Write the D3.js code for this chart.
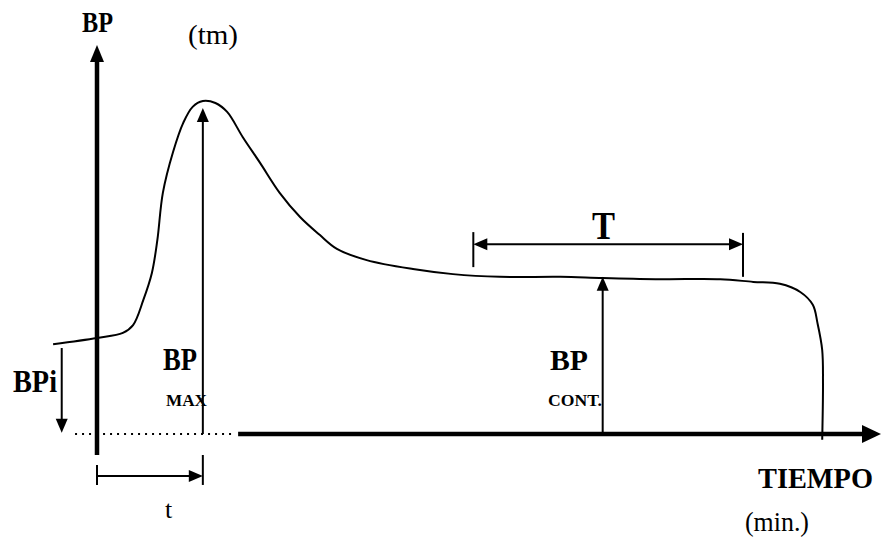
<!DOCTYPE html>
<html>
<head>
<meta charset="utf-8">
<script src="https://cdn.jsdelivr.net/npm/d3@7"></script>
<style>
  body { margin: 0; background: #fff; }
  text { font-family: "Liberation Serif", "Times New Roman", serif; fill: #000; }
</style>
</head>
<body>
<div id="chart"></div>
<script>
// curve of BP against time (time in %, BP in %)
var curveTime = [-5.6, 0, 3.3, 4.6, 5.9, 7.0, 7.7, 8.4, 9.7, 11.0, 12.2, 13.5, 15.1, 16.6, 18.6,
    20.8, 23.3, 25.9, 28.4, 30.6, 34.4, 40.3, 45.4, 51.4, 59.1, 64.5, 71.8, 79.5, 83.7, 87.1,
    89.7, 91.3, 91.9, 92.5, 92.6, 92.5];
var curveBP = [23.1, 24.7, 26.0, 28.0, 34.4, 41.4, 49.9, 62.0, 72.5, 80.0, 84.1, 85.6, 85.1, 82.8, 76.3,
    69.7, 62.0, 55.8, 51.2, 47.6, 44.7, 42.4, 41.1, 40.4, 40.4, 40.1, 39.8, 39.8, 39.1, 38.6,
    36.5, 33.2, 28.5, 21.6, 13.1, -1.5];

// markers
var tMax = 13.5, bpMax = 83.8;
var tCont = 64.5, bpCont = 40.4;
var bpInitial = 22.1, tInitial = -4.5;
var tWindow = [48, 82.4], bpWindow = 48.8;

var W = 882, H = 541;
var svg = d3.select("#chart").append("svg").attr("width", W).attr("height", H);

var x = d3.scaleLinear().domain([0, 100]).range([97, 881]);
var y = d3.scaleLinear().domain([0, 100]).range([434, 45]);

function arrowHead(px, py, dir, len, half)
{
    // dir: "up", "down", "left", "right"; (px,py) is the tip
    var pts;
    if (dir === "up") pts = [[px, py], [px - half, py + len], [px + half, py + len]];
    else if (dir === "down") pts = [[px, py], [px - half, py - len], [px + half, py - len]];
    else if (dir === "left") pts = [[px, py], [px + len, py - half], [px + len, py + half]];
    else pts = [[px, py], [px - len, py - half], [px - len, py + half]];
    svg.append("polygon").attr("points", pts.map(function (p) { return p.join(","); }).join(" "))
        .attr("fill", "#000");
}

function seg(x1, y1, x2, y2, w, dash)
{
    var l = svg.append("line")
        .attr("x1", x1).attr("y1", y1).attr("x2", x2).attr("y2", y2)
        .attr("stroke", "#000").attr("stroke-width", w);
    if (dash) l.attr("stroke-dasharray", dash);
    return l;
}

// axes
seg(x(0), y(-5.4), x(0), y(100) + 14, 4.5);
arrowHead(x(0), y(100), "up", 17, 7);
seg(x(-2.8), y(0), x(17.4), y(0), 2, "2,5");
seg(x(18), y(0), x(100) - 16, y(0), 4.5);
arrowHead(x(100), y(0), "right", 19, 9);

// curve
var pts = curveTime.map(function (t, i) { return [t, curveBP[i]]; });
svg.append("path")
    .datum(pts)
    .attr("d", d3.line().x(function (d) { return x(d[0]); }).y(function (d) { return y(d[1]); })
        .curve(d3.curveCatmullRom.alpha(0.5)))
    .attr("fill", "none").attr("stroke", "#000").attr("stroke-width", 2);

// BP max arrow
seg(x(tMax), y(0), x(tMax), y(bpMax) + 12, 2);
arrowHead(x(tMax), y(bpMax), "up", 14, 6);

// BP cont arrow
seg(x(tCont), y(0), x(tCont), y(bpCont) + 12, 2);
arrowHead(x(tCont), y(bpCont), "up", 14, 6);

// BPi arrow
seg(x(tInitial), y(bpInitial), x(tInitial), y(0.3) - 12, 2);
arrowHead(x(tInitial), y(0.3), "down", 14, 6);

// T window
seg(x(tWindow[0]) + 12, y(bpWindow), x(tWindow[1]) - 12, y(bpWindow), 2);
arrowHead(x(tWindow[0]), y(bpWindow), "left", 14, 6);
arrowHead(x(tWindow[1]), y(bpWindow), "right", 14, 6);
seg(x(tWindow[0]), y(51.9), x(tWindow[0]), y(42.9), 2);
seg(x(tWindow[1]), y(51.7), x(tWindow[1]), y(40.4), 2);

// t bracket
seg(x(0), y(-10.8), x(tMax) - 12, y(-10.8), 2);
arrowHead(x(tMax), y(-10.8), "right", 14, 6);
seg(x(0), y(-8), x(0), y(-13.1), 2);
seg(x(tMax), y(-5.4), x(tMax), y(-13.1), 2);

// labels
function label(txt, px, py, size, bold, len)
{
    var t = svg.append("text").attr("x", px).attr("y", py).text(txt)
        .style("font-size", size + "px")
        .style("font-weight", bold ? "bold" : "normal");
    if (len) t.attr("textLength", len).attr("lengthAdjust", "spacingAndGlyphs");
}

label("BP", 82, 32, 30, true, 31);
label("(tm)", 188, 44, 28, false, 50);
label("BPi", 13, 392, 32, true, 44);
label("BP", 163, 370, 31, true, 34);
label("MAX", 166, 406, 17, true, 41);
label("BP", 550, 370, 29, true, 38);
label("CONT.", 548, 406, 17, true, 54);
label("T", 592, 239, 40, true, 23);
label("TIEMPO", 758, 488, 29, true, 115);
label("t", 165, 518, 26, false);
label("(min.)", 745, 531, 27, false, 64);
</script>
</body>
</html>
